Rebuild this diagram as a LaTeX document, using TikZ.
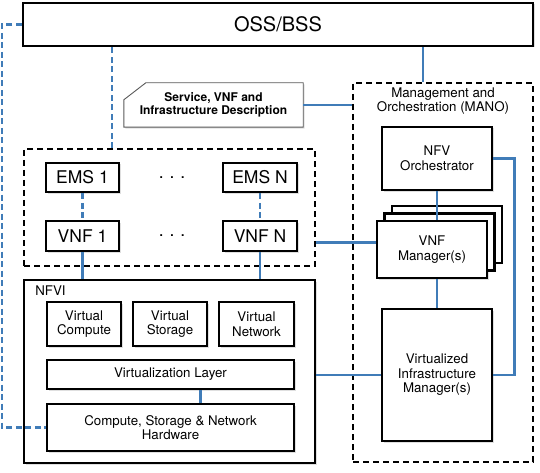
\documentclass[tikz,border=0pt]{standalone}
\usepackage{fontspec}
\setmainfont{TeX Gyre Heros}
\usetikzlibrary{shadows,backgrounds}
\definecolor{linkblue}{RGB}{64,124,184}

\begin{document}
\begin{tikzpicture}[x=1pt, y=-1pt,
  block/.style={draw, line width=2.5pt, fill=white, align=center, inner sep=0pt,
    font=\fontsize{13.3}{14.5}\selectfont,
    drop shadow={opacity=0.25, shadow xshift=1.5pt, shadow yshift=-1.5pt}},
  group/.style={draw, line width=1.8pt, dash pattern=on 6pt off 4pt, inner sep=0pt},
  big/.style={font=\fontsize{17.5}{20}\selectfont},
  link/.style={draw=linkblue, line width=2.5pt},
  ctrl/.style={draw=linkblue, line width=2.5pt, dash pattern=on 6pt off 3.5pt}]

\useasboundingbox (0,0) rectangle (540,473);

\node[block, minimum width=510pt, minimum height=43pt, font=\fontsize{20}{22}\selectfont] (oss) at (278,24.5) {OSS/BSS};

\node[minimum width=179pt, minimum height=44pt, inner sep=0pt, align=center,
  font=\bfseries\fontsize{12}{13.5}\selectfont] (desc) at (213.5,105) {Service, VNF and\\Infrastructure Description};
\begin{scope}[on background layer]
\draw[gray!70!black, line width=0.9pt, fill=white,
  drop shadow={opacity=0.25, shadow xshift=1.5pt, shadow yshift=-1.5pt}]
  ([yshift=-17pt]desc.north west) -- ([xshift=22pt]desc.north west) -- (desc.north east)
  -- (desc.south east) -- (desc.south west) -- cycle;
\end{scope}

\node[group, minimum width=180pt, minimum height=379pt] (mano) at (443,272.5) {};
\node[align=center, font=\fontsize{13.3}{14}\selectfont] (manolabel) at ([yshift=-19pt]mano.north) {Management and\\Orchestration (MANO)};
\node[block, minimum width=110pt, minimum height=63pt] (orch) at (437,158.5) {NFV\\Orchestrator};
\node[block, minimum width=110pt, minimum height=57pt, drop shadow={opacity=0},
  copy shadow={shadow xshift=15pt, shadow yshift=15pt, line width=2.5pt},
  copy shadow={shadow xshift=7.5pt, shadow yshift=7.5pt, line width=2.5pt}] (vnfm) at (432,249.5) {VNF\\Manager(s)};
\node[block, minimum width=110pt, minimum height=132pt] (vim) at (437,375) {Virtualized\\Infrastructure\\Manager(s)};

\node[group, minimum width=291pt, minimum height=117pt] (vnfgrp) at (169.5,207.5) {};
\node[block, big, minimum width=73pt, minimum height=29pt] (ems1) at (82.5,177.5) {EMS 1};
\node[block, big, minimum width=74pt, minimum height=29pt] (emsn) at (260,177.5) {EMS N};
\node[block, big, minimum width=73pt, minimum height=30pt] (vnf1) at (82.5,236) {VNF 1};
\node[block, big, minimum width=74pt, minimum height=30pt] (vnfn) at (260,236) {VNF N};
\node[big] (emsdots) at (172,177.5) {.\,\,.\,\,.};
\node[big] (vnfdots) at (172,236) {.\,\,.\,\,.};

\node[block, minimum width=291pt, minimum height=183pt, drop shadow={opacity=0}] (nfvi) at (169.5,371.5) {};
\node[anchor=west, font=\fontsize{13.3}{14.5}\selectfont] (nfvilabel) at ([xshift=9pt,yshift=-12pt]nfvi.north west) {NFVI};
\node[block, minimum width=74pt, minimum height=44pt] (vcomp) at (84,324) {Virtual\\Compute};
\node[block, minimum width=74pt, minimum height=44pt] (vstor) at (170,324) {Virtual\\Storage};
\node[block, minimum width=75pt, minimum height=44pt] (vnet) at (256.5,324) {Virtual\\Network};
\node[block, minimum width=247pt, minimum height=29pt] (vlayer) at (170.5,374.5) {Virtualization Layer};
\node[block, minimum width=247pt, minimum height=47pt] (hw) at (170.5,427.5) {Compute, Storage \& Network\\Hardware};

\draw[ctrl] (oss.west) -- ++(-20,0) |- (hw.west);
\draw[ctrl] ([xshift=89pt]vnfgrp.north west) coordinate (ossdrop) -- (ossdrop |- oss.south);
\draw[ctrl] (ems1) -- (vnf1);
\draw[ctrl] (emsn) -- (vnfn);

\draw[link] ([xshift=-20pt]mano.north) -- ([xshift=-20pt]mano.north |- oss.south);
\draw[link] (desc.east) -- (desc.east -| mano.west);
\draw[link] (orch.south) -- (orch.south |- vnfm.north);
\draw[link] (vim.north) -- (vim.north |- vnfm.south);
\draw[link] (orch.east) -- ++(21,0) |- (vim.east);
\draw[link] ([yshift=7pt]vnfm.west) -- ([yshift=7pt]vnfm.west -| vnfgrp.east);
\draw[link] (vim.west) -- (vim.west -| nfvi.east);
\draw[link] (vnf1.south) -- (vnf1.south |- nfvi.north);
\draw[link] (vnfn.south) -- (vnfn.south |- nfvi.north);
\draw[link] ([xshift=30pt]vlayer.south) -- ([xshift=30pt]hw.north);
\end{tikzpicture}
\end{document}
